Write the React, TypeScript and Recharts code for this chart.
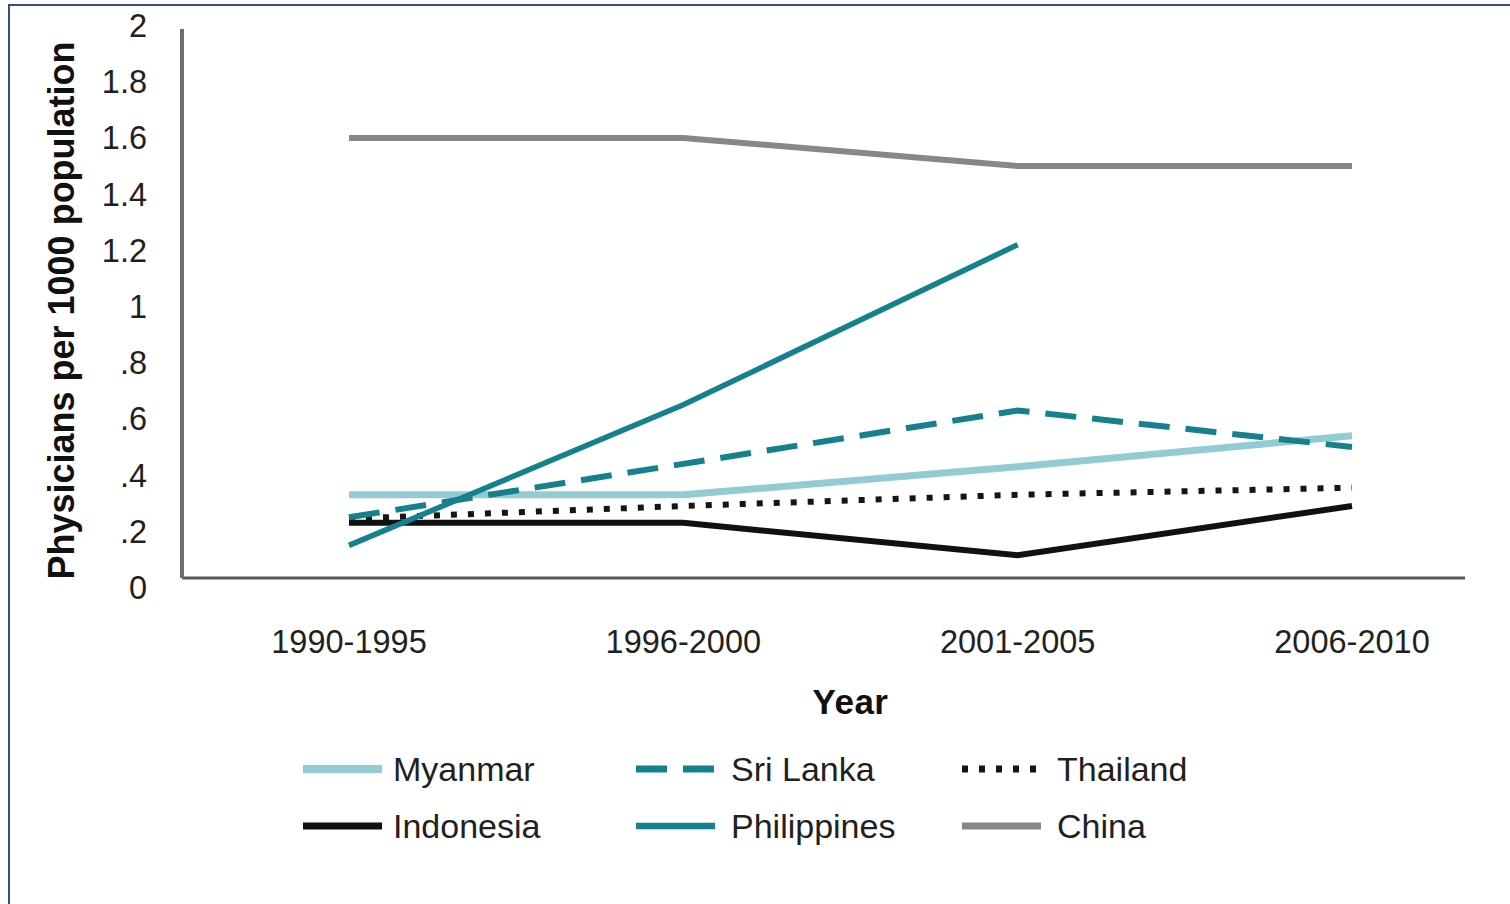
import React from "react";
import { LineChart, Line, XAxis, YAxis, ReferenceLine } from "recharts";

const CATEGORIES = ["1990-1995", "1996-2000", "2001-2005", "2006-2010"];
const MYANMAR = [0.33, 0.33, 0.43, 0.54];
const SRI_LANKA = [0.25, 0.44, 0.63, 0.5];
const THAILAND = [0.245, 0.29, 0.33, 0.355];
const INDONESIA = [0.23, 0.23, 0.115, 0.29];
const PHILIPPINES = [0.15, 0.65, 1.22, null];
const CHINA = [1.6, 1.6, 1.5, 1.5];
const Y_TICKS = [0, 0.2, 0.4, 0.6, 0.8, 1, 1.2, 1.4, 1.6, 1.8, 2];

// the drawn x axis in the original sits a little above the zero tick
const AXIS_Y = 0.034;

const data = CATEGORIES.map((year, i) => ({
  year,
  Myanmar: MYANMAR[i],
  "Sri Lanka": SRI_LANKA[i],
  Thailand: THAILAND[i],
  Indonesia: INDONESIA[i],
  Philippines: PHILIPPINES[i],
  China: CHINA[i],
}));

type Style = { color: string; width: number; dash?: string };

// drawing order (last on top)
const SERIES: { key: string; style: Style }[] = [
  { key: "China", style: { color: "#878787", width: 6 } },
  { key: "Myanmar", style: { color: "#93cbd2", width: 7 } },
  { key: "Indonesia", style: { color: "#111111", width: 6 } },
  { key: "Thailand", style: { color: "#151515", width: 6, dash: "6 11" } },
  { key: "Sri Lanka", style: { color: "#15808e", width: 6, dash: "31 16" } },
  { key: "Philippines", style: { color: "#15808e", width: 5.5 } },
];

const LEGEND_ROWS = [
  ["Myanmar", "Sri Lanka", "Thailand"],
  ["Indonesia", "Philippines", "China"],
];

const FONT = "'Liberation Sans', Arial, sans-serif";
const INK = "#231f20";
const PAD_LEFT = 167;
const PAD_RIGHT = 113;

const fmtTick = (v: number) => {
  if (v === 0) return "0";
  const s = String(v);
  return s.startsWith("0.") ? s.slice(1) : s;
};

const YLabel = ({ viewBox }: any) => {
  const cx = viewBox.x + 14;
  const cy = viewBox.y + viewBox.height / 2 + 4;
  return (
    <text
      x={cx}
      y={cy}
      transform={`rotate(-90, ${cx}, ${cy})`}
      textAnchor="middle"
      dominantBaseline="central"
      fontFamily={FONT}
      fontWeight="bold"
      fontSize={36}
      fill="#111"
    >
      Physicians per 1000 population
    </text>
  );
};

const XLabel = ({ viewBox }: any) => {
  const cx = viewBox.x + PAD_LEFT + (viewBox.width - PAD_LEFT - PAD_RIGHT) / 2;
  return (
    <text
      x={cx}
      y={701}
      textAnchor="middle"
      dominantBaseline="central"
      fontFamily={FONT}
      fontWeight="bold"
      fontSize={35}
      letterSpacing={0.5}
      fill="#111"
    >
      Year
    </text>
  );
};

const LegendIcon = ({ style }: { style: Style }) => (
  <svg width={79} height={12} style={{ display: "block" }}>
    <line
      x1={0}
      y1={6}
      x2={79}
      y2={6}
      stroke={style.color}
      strokeWidth={style.width + 1}
      strokeDasharray={style.dash}
    />
  </svg>
);

export default function App() {
  const styleOf = (k: string) => SERIES.find((s) => s.key === k)!.style;
  return (
    <div style={{ position: "absolute", left: 0, top: 0, width: 1510, height: 904, background: "#fff", overflow: "hidden" }}>
      <div
        style={{
          position: "absolute",
          left: 8,
          top: 4,
          width: 1520,
          height: 920,
          borderTop: "2px solid #33507a",
          borderLeft: "2px solid #33507a",
        }}
      />
      <div style={{ position: "absolute", left: 0, top: 0 }}>
        <LineChart
          width={1510}
          height={904}
          data={data}
          margin={{ top: 25.5, right: 45, bottom: 176.5, left: 47 }}
        >
          <XAxis
            dataKey="year"
            height={140}
            padding={{ left: PAD_LEFT, right: PAD_RIGHT }}
            axisLine={false}
            tickLine={false}
            tickSize={0}
            tickMargin={42}
            tick={{ fill: INK, fontSize: 32.5, fontFamily: FONT }}
            label={<XLabel />}
          />
          <YAxis
            width={135}
            domain={[0, 2]}
            ticks={Y_TICKS}
            tickFormatter={fmtTick}
            axisLine={{ stroke: "#6e6e6e", strokeWidth: 4, strokeDasharray: "0 3.5 549 100" }}
            tickLine={false}
            tickSize={0}
            tickMargin={35}
            tick={{ fill: INK, fontSize: 32.5, fontFamily: FONT }}
            label={<YLabel />}
          />
          <ReferenceLine y={AXIS_Y} stroke="#5a5a5a" strokeWidth={3} />
          {SERIES.map((s) => (
            <Line
              key={s.key}
              dataKey={s.key}
              type="linear"
              stroke={s.style.color}
              strokeWidth={s.style.width}
              strokeDasharray={s.style.dash}
              dot={false}
              activeDot={false}
              isAnimationActive={false}
            />
          ))}
        </LineChart>
      </div>
      <div style={{ position: "absolute", left: 303, top: 740.5, fontFamily: FONT, fontSize: 34, color: INK }}>
        {LEGEND_ROWS.map((row, r) => (
          <div key={r} style={{ display: "flex", height: 57, alignItems: "center" }}>
            {row.map((k, c) => (
              <div key={k} style={{ display: "flex", alignItems: "center", width: c === 0 ? 333 : c === 1 ? 326 : 300 }}>
                <LegendIcon style={styleOf(k)} />
                <span style={{ marginLeft: c === 0 ? 11 : 16, lineHeight: "57px" }}>{k}</span>
              </div>
            ))}
          </div>
        ))}
      </div>
    </div>
  );
}
